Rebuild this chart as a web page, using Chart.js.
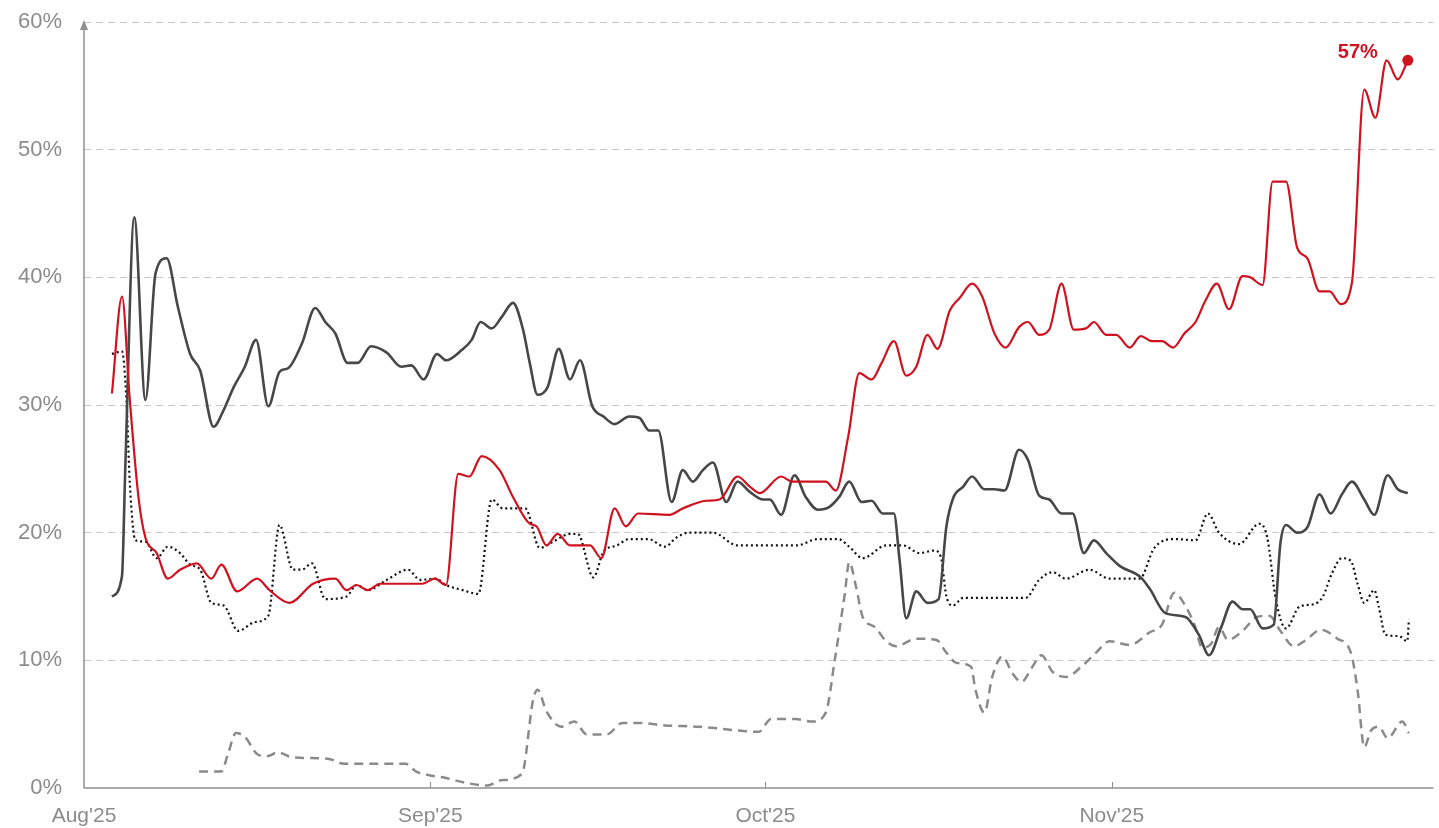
<!DOCTYPE html>
<html>
<head>
<meta charset="utf-8">
<script src="https://cdn.jsdelivr.net/npm/chart.js@4.4.1/dist/chart.umd.min.js"></script>
<style>
  html, body { margin: 0; padding: 0; background: #ffffff; }
  #wrap { width: 1439px; height: 828px; position: relative; }
</style>
</head>
<body>
<div id="wrap"><canvas id="c" width="1439" height="828"></canvas></div>
<script>
// ---- tick labels (x values are days since 1 Aug 2025) ----
const monthTicks = [0, 31, 61, 92];
const monthLabels = ["Aug'25", "Sep'25", "Oct'25", "Nov'25"];
const yTicks = [0, 10, 20, 30, 40, 50, 60];

// ---- series: red ----
const redDays = [2.5,3.4,4.1,4.9,5.5,6.5,7.5,8.6,10.1,11.4,12.3,13.7,15.5,16.6,18.4,20.5,22.5,23.5,24.4,25.4,26.5,30.3,31.4,32.4,33.5,34.5,35.6,37.2,38.4,39.9,40.5,41.4,42.4,43.5,45.3,46.3,47.5,48.5,49.6,52.4,53.6,55.7,56.9,58.5,59.6,60.5,62.4,63.4,66.4,67.3,68.4,69.4,70.5,71.4,72.5,73.6,74.5,75.5,76.4,77.5,78.4,79.5,80.4,81.5,82.5,83.7,84.5,85.5,86.4,87.5,88.6,89.7,90.4,91.5,92.4,93.6,94.6,95.6,96.5,97.5,98.5,99.5,100.4,101.4,102.5,103.7,104.4,105.5,106.4,107.6,108.6,109.5,110.6,111.5,112.5,113.5,114.6,115.6,116.6,117.6,118.5];
const redVals = [30.9,38.5,30.4,22.6,19.6,18.4,16.4,17.1,17.6,16.4,17.5,15.4,16.4,15.5,14.5,16.0,16.4,15.5,15.9,15.5,16.0,16.0,16.4,15.9,24.6,24.4,26.0,24.9,22.8,20.7,20.5,19.0,19.9,19.0,19.0,18.0,21.9,20.5,21.5,21.4,21.9,22.5,22.6,24.4,23.6,23.1,24.4,24.0,24.0,23.3,27.5,32.5,32.0,33.3,35.0,32.3,33.0,35.5,34.4,37.4,38.4,39.5,38.5,35.6,34.5,36.1,36.5,35.5,35.9,39.5,35.9,36.0,36.5,35.5,35.5,34.5,35.4,35.0,35.0,34.5,35.6,36.5,38.2,39.5,37.5,40.1,40.0,39.4,47.5,47.5,42.3,41.5,38.9,38.9,37.9,39.6,54.7,52.5,57.0,55.5,57.0];

// ---- series: dark grey solid ----
const greyDays = [2.5,3.4,3.7,4.5,5.5,6.4,7.4,8.4,9.5,10.4,11.6,12.5,13.4,14.4,15.4,16.5,17.5,18.3,19.5,20.7,21.6,22.5,23.6,24.5,25.7,27.1,28.4,29.3,30.4,31.6,32.4,33.8,34.7,35.5,36.5,37.4,38.4,39.3,39.9,40.6,41.5,42.5,43.5,44.4,45.5,46.5,47.5,48.8,49.7,50.6,51.4,52.6,53.6,54.5,55.4,56.3,57.5,58.5,59.6,60.8,61.4,62.4,63.6,64.6,65.7,66.7,67.6,68.5,69.6,70.5,71.5,72.5,73.0,73.6,74.5,75.5,76.5,77.2,77.8,78.7,79.5,80.6,81.5,82.4,83.7,84.5,85.5,86.4,87.5,88.5,89.5,90.4,91.5,92.7,94.6,95.4,96.8,98.6,99.8,100.7,101.8,102.8,103.7,104.4,105.5,106.5,107.1,107.6,108.6,109.5,110.6,111.6,112.6,113.5,114.6,115.5,116.7,117.6,118.5];
const greyVals = [15.0,16.6,25.2,44.7,30.4,40.3,41.5,37.7,34.0,32.7,28.3,29.6,31.4,33.0,35.1,29.9,32.6,32.9,34.8,37.6,36.5,35.6,33.3,33.3,34.6,34.1,33.0,33.1,32.0,34.0,33.5,34.3,35.1,36.5,36.0,36.9,38.0,35.9,33.3,30.8,31.4,34.4,32.0,33.5,29.9,29.1,28.5,29.1,29.0,28.0,28.0,22.4,24.9,24.0,24.9,25.5,22.4,24.0,23.2,22.6,22.6,21.4,24.5,22.8,21.8,22.0,22.8,24.0,22.4,22.5,21.5,21.5,17.9,13.3,15.4,14.5,14.8,20.5,22.7,23.6,24.4,23.4,23.4,23.3,26.5,25.7,22.9,22.6,21.5,21.5,18.4,19.4,18.4,17.4,16.5,15.6,13.7,13.4,12.0,10.4,12.6,14.6,14.0,14.0,12.5,12.8,19.2,20.6,20.0,20.4,23.0,21.5,23.0,24.0,22.6,21.4,24.5,23.4,23.1];

// ---- series: black dotted ----
const dotDays = [2.5,3.4,3.8,4.1,4.6,5.5,6.5,7.5,8.6,9.5,10.4,11.4,12.5,13.8,15.3,16.5,17.5,18.7,19.5,20.4,21.6,23.5,24.4,25.4,27.1,29.0,30.1,31.5,32.4,33.9,35.3,36.5,37.5,39.5,40.8,42.0,43.5,44.2,45.6,46.5,47.7,48.8,50.5,52.0,53.0,54.1,56.3,58.5,63.8,65.7,67.5,68.5,69.7,71.8,73.3,74.8,76.1,76.7,77.2,77.8,78.7,84.3,85.5,86.7,87.9,90.0,91.8,94.5,95.8,97.7,99.5,100.6,101.6,103.4,105.2,105.9,106.7,107.6,108.8,110.1,110.9,111.7,112.6,113.4,114.0,114.6,115.5,115.9,116.5,117.7,118.45,118.6];
const dotVals = [34.0,34.2,30.4,23.9,19.4,19.3,18.0,18.9,18.4,17.5,17.1,14.5,14.3,12.3,13.0,13.5,20.6,17.1,17.1,17.6,14.8,15.0,15.9,15.5,16.3,17.1,16.3,16.4,15.9,15.5,15.2,22.6,21.9,21.9,18.8,19.3,19.9,19.9,16.5,18.5,19.0,19.5,19.5,18.9,19.6,20.0,20.0,19.0,19.0,19.5,19.5,18.9,18.0,19.0,19.0,18.4,18.6,18.1,15.0,14.3,14.9,14.9,16.3,16.9,16.4,17.1,16.4,16.4,18.8,19.5,19.4,21.5,20.0,19.1,20.7,19.7,14.7,12.5,14.2,14.4,15.0,16.8,18.0,17.8,16.0,14.5,15.5,14.2,12.0,11.9,11.5,13.2];

// ---- series: grey dashed ----
const dashDays = [10.3,12.3,12.9,13.6,14.4,15.6,16.5,17.3,18.7,21.8,23.3,28.8,29.7,30.9,32.3,34.2,36.1,37.3,39.2,40.2,40.6,41.4,42.7,43.9,45.0,46.8,48.2,49.7,52.0,55.1,58.6,60.4,61.5,63.7,65.2,66.4,67.2,68.1,68.5,69.1,69.7,70.8,71.8,72.7,74.5,76.3,77.2,78.1,79.4,79.8,80.6,81.3,82.2,83.1,83.9,84.9,85.7,86.7,87.9,89.4,90.6,91.8,93.6,95.4,96.5,97.6,98.5,99.4,100.1,100.9,101.6,102.4,103.7,105.0,106.1,107.1,108.3,109.4,110.7,112.2,113.4,114.0,114.6,115.2,115.9,116.7,118.0,118.6];
const dashVals = [1.3,1.3,2.7,4.3,4.0,2.6,2.5,2.8,2.4,2.3,1.9,1.9,1.3,1.0,0.8,0.4,0.2,0.6,1.1,6.9,7.7,6.0,4.8,5.2,4.2,4.2,5.1,5.1,4.9,4.8,4.5,4.4,5.4,5.4,5.2,5.9,10.0,15.2,17.7,15.8,13.4,12.6,11.5,11.1,11.7,11.6,10.6,9.8,9.5,7.7,5.9,8.7,10.3,9.0,8.3,9.5,10.4,9.1,8.7,9.6,10.6,11.5,11.2,12.2,12.8,15.3,14.4,12.8,11.0,11.3,12.6,11.6,12.3,13.4,13.5,12.3,11.1,11.6,12.4,11.7,10.6,7.7,3.2,4.5,4.8,3.9,5.2,4.3];

const endLabel = '57%';

const toPts = (d, v) => d.map((x, i) => ({ x: x, y: v[i] }));
const RED = '#d0121f';
const FONT = '"Liberation Sans", Arial, sans-serif';

const axisPlugin = {
  id: 'axisDeco',
  afterDraw(chart) {
    const { ctx, chartArea } = chart;
    const xs = chart.scales.x, ys = chart.scales.y;
    const y0 = ys.getPixelForValue(0);
    const left = xs.getPixelForValue(xs.min);
    ctx.save();
    ctx.strokeStyle = '#8f8f8f';
    ctx.lineWidth = 1.5;
    // x axis line
    ctx.beginPath();
    ctx.moveTo(left, y0);
    ctx.lineTo(chartArea.right, y0);
    ctx.stroke();
    // month ticks (inside)
    ctx.lineWidth = 1;
    monthTicks.forEach(t => {
      if (t === 0) return;
      const px = Math.round(xs.getPixelForValue(t)) + 0.5;
      ctx.beginPath();
      ctx.moveTo(px, y0);
      ctx.lineTo(px, y0 - 6);
      ctx.stroke();
    });
    // y axis with arrow
    const top = ys.getPixelForValue(60);
    ctx.lineWidth = 1.5;
    ctx.beginPath();
    ctx.moveTo(left, y0);
    ctx.lineTo(left, top + 4);
    ctx.stroke();
    ctx.fillStyle = '#8f8f8f';
    ctx.beginPath();
    ctx.moveTo(left, top - 2);
    ctx.lineTo(left - 4, top + 8);
    ctx.lineTo(left + 4, top + 8);
    ctx.closePath();
    ctx.fill();
    // end label on red series
    const meta = chart.getDatasetMeta(0);
    const last = meta.data[meta.data.length - 1];
    ctx.fillStyle = RED;
    ctx.font = 'bold 20px ' + FONT;
    ctx.textAlign = 'right';
    ctx.textBaseline = 'middle';
    ctx.fillText(endLabel, last.x - 30, last.y - 8);
    ctx.restore();
  }
};

new Chart(document.getElementById('c'), {
  type: 'line',
  data: {
    datasets: [
      {
        label: 'red',
        data: toPts(redDays, redVals),
        borderColor: RED,
        backgroundColor: RED,
        borderWidth: 2.2,
        pointRadius: redDays.map((d, i) => i === redDays.length - 1 ? 5.5 : 0),
        pointBackgroundColor: RED,
        pointBorderWidth: 0,
        cubicInterpolationMode: 'monotone',
        order: 0
      },
      {
        label: 'grey',
        data: toPts(greyDays, greyVals),
        borderColor: '#474747',
        borderWidth: 2.6,
        pointRadius: 0,
        cubicInterpolationMode: 'monotone',
        order: 1
      },
      {
        label: 'dotted',
        data: toPts(dotDays, dotVals),
        borderColor: '#111111',
        borderWidth: 2.2,
        borderDash: [2, 3],
        pointRadius: 0,
        cubicInterpolationMode: 'monotone',
        order: 2
      },
      {
        label: 'dashed',
        data: toPts(dashDays, dashVals),
        borderColor: '#8a8a8a',
        borderWidth: 2.5,
        borderDash: [9, 6],
        pointRadius: 0,
        cubicInterpolationMode: 'monotone',
        order: 3
      }
    ]
  },
  options: {
    responsive: false,
    animation: false,
    events: [],
    layout: { padding: { left: 0, right: 4, top: 22, bottom: 0 } },
    plugins: { legend: { display: false }, tooltip: { enabled: false } },
    scales: {
      x: {
        type: 'linear',
        min: 0,
        max: 120.8,
        afterBuildTicks: (s) => { s.ticks = monthTicks.map(v => ({ value: v })); },
        afterFit: (s) => { s.height = 40; s.paddingLeft = 0; s.paddingRight = 0; },
        grid: { display: false, drawTicks: false },
        border: { display: false },
        ticks: {
          autoSkip: false,
          maxRotation: 0,
          padding: 16,
          color: '#8c8c8c',
          font: { family: FONT, size: 21 },
          callback: (v) => { const i = monthTicks.indexOf(v); return i >= 0 ? monthLabels[i] : ''; }
        }
      },
      y: {
        type: 'linear',
        min: 0,
        max: 60,
        afterBuildTicks: (s) => { s.ticks = yTicks.map(v => ({ value: v })); },
        afterFit: (s) => { s.width = 84; s.paddingTop = 0; s.paddingBottom = 0; },
        grid: {
          drawTicks: false,
          color: (c) => c.tick && c.tick.value === 0 ? 'rgba(0,0,0,0)' : '#c6c6c6',
          lineWidth: 1
        },
        border: { display: false, dash: [7, 5] },
        ticks: {
          padding: 22,
          color: '#8c8c8c',
          font: { family: FONT, size: 22 },
          callback: (v) => v + '%'
        }
      }
    }
  },
  plugins: [axisPlugin]
});
</script>
</body>
</html>
